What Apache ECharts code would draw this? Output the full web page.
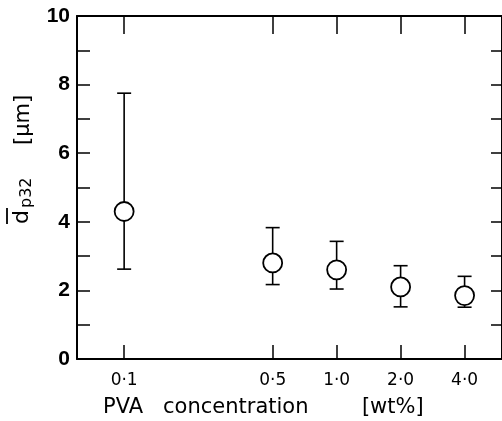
<!DOCTYPE html>
<html>
<head>
<meta charset="utf-8">
<script src="https://cdn.jsdelivr.net/npm/echarts@6/dist/echarts.min.js"></script>
<style>
html, body { margin: 0; padding: 0; background: #fff; }
#main { width: 502px; height: 421px; }
</style>
</head>
<body>
<div id="main"></div>
<script>
// PVA concentration [wt%] and mean diameter d_p32 [um] with error bars
const concentration = [0.1, 0.5, 1.0, 2.0, 4.0];
const dp32Mean = [4.3, 2.8, 2.6, 2.1, 1.85];
const dp32Low = [2.62, 2.17, 2.04, 1.52, 1.51];
const dp32High = [7.75, 3.83, 3.43, 2.72, 2.41];
const xTickLabels = ['0·1', '0·5', '1·0', '2·0', '4·0'];
const xRange = [0.06, 6];
const yRange = [0, 10];

// concentration is plotted on a log10 scale
const logX = concentration.map(v => Math.log10(v));

// label for a tick position on the log axis
function xLabel(v) {
    let best = 0;
    for (let i = 1; i < logX.length; i++) {
        if (Math.abs(logX[i] - v) < Math.abs(logX[best] - v)) best = i;
    }
    return xTickLabels[best];
}

let mychart = echarts.init(document.getElementById('main'));

const axisColor = '#000';

mychart.setOption({
    animation: false,
    backgroundColor: '#fff',
    grid: {
        left: 77,
        right: -2,
        top: 16,
        bottom: 62
    },
    xAxis: [
        {
            type: 'value',
            position: 'bottom',
            min: Math.log10(xRange[0]),
            max: Math.log10(xRange[1]),
            splitLine: { show: false },
            axisLine: { onZero: false, lineStyle: { color: axisColor, width: 2 } },
            axisTick: {
                inside: true,
                length: 14,
                customValues: logX,
                lineStyle: { color: axisColor, width: 1.5 }
            },
            axisLabel: {
                customValues: logX,
                margin: 13,
                fontFamily: 'DejaVu Sans',
                fontSize: 17,
                color: '#000',
                formatter: v => xLabel(v)
            }
        },
        {
            type: 'value',
            position: 'top',
            min: Math.log10(xRange[0]),
            max: Math.log10(xRange[1]),
            splitLine: { show: false },
            axisLine: { onZero: false, lineStyle: { color: axisColor, width: 2 } },
            axisTick: {
                inside: true,
                length: 18,
                customValues: logX,
                lineStyle: { color: axisColor, width: 1.5 }
            },
            axisLabel: { show: false }
        }
    ],
    yAxis: [
        {
            type: 'value',
            position: 'left',
            min: yRange[0],
            max: yRange[1],
            interval: 1,
            splitLine: { show: false },
            axisLine: { onZero: false, lineStyle: { color: axisColor, width: 2 } },
            axisTick: {
                inside: true,
                length: 13,
                lineStyle: { color: axisColor, width: 1.5 }
            },
            axisLabel: {
                margin: 7,
                fontFamily: 'Liberation Sans',
                fontWeight: 'bold',
                fontSize: 21,
                color: '#000',
                formatter: v => (v % 2 === 0 ? String(v) : '')
            }
        },
        {
            type: 'value',
            position: 'right',
            min: yRange[0],
            max: yRange[1],
            interval: 1,
            splitLine: { show: false },
            axisLine: { onZero: false, lineStyle: { color: axisColor, width: 2 } },
            axisTick: {
                inside: true,
                length: 11,
                lineStyle: { color: axisColor, width: 1.5 }
            },
            axisLabel: { show: false }
        }
    ],
    graphic: [
        {
            // y axis title, rotated to read bottom-to-top
            type: 'group',
            x: 27,
            y: 224,
            rotation: Math.PI / 2,
            children: [
                {
                    type: 'text',
                    x: 0,
                    y: 6,
                    style: {
                        text: 'd',
                        fontFamily: 'DejaVu Sans',
                        fontSize: 22,
                        fill: '#000',
                        verticalAlign: 'bottom'
                    }
                },
                {
                    type: 'line',
                    shape: { x1: 0, y1: -20, x2: 16, y2: -20 },
                    style: { stroke: '#000', lineWidth: 1.8 }
                },
                {
                    type: 'text',
                    x: 16,
                    y: 8,
                    style: {
                        text: 'p32',
                        fontFamily: 'DejaVu Sans',
                        fontSize: 16,
                        fill: '#000',
                        verticalAlign: 'bottom'
                    }
                },
                {
                    type: 'text',
                    x: 79,
                    y: 7,
                    style: {
                        text: '[μm]',
                        fontFamily: 'DejaVu Sans',
                        fontSize: 21,
                        fill: '#000',
                        verticalAlign: 'bottom'
                    }
                }
            ]
        },
        {
            type: 'text',
            x: 103,
            y: 408,
            style: {
                text: 'PVA   concentration        [wt%]',
                fontFamily: 'DejaVu Sans',
                fontSize: 21,
                fill: '#000',
                verticalAlign: 'middle'
            }
        }
    ],
    series: [
        {
            name: 'error',
            type: 'custom',
            z: 2,
            renderItem: function (params, api) {
                const lo = api.coord([api.value(0), api.value(1)]);
                const hi = api.coord([api.value(0), api.value(2)]);
                const w = 7;
                const st = { stroke: '#000', lineWidth: 1.6 };
                return {
                    type: 'group',
                    children: [
                        { type: 'line', shape: { x1: lo[0], y1: lo[1], x2: hi[0], y2: hi[1] }, style: st },
                        { type: 'line', shape: { x1: lo[0] - w, y1: lo[1], x2: lo[0] + w, y2: lo[1] }, style: st },
                        { type: 'line', shape: { x1: hi[0] - w, y1: hi[1], x2: hi[0] + w, y2: hi[1] }, style: st }
                    ]
                };
            },
            data: logX.map((x, i) => [x, dp32Low[i], dp32High[i]])
        },
        {
            name: 'dp32',
            type: 'scatter',
            z: 3,
            symbol: 'circle',
            symbolSize: 19,
            itemStyle: {
                color: '#fff',
                borderColor: '#000',
                borderWidth: 1.8,
                opacity: 1
            },
            data: logX.map((x, i) => [x, dp32Mean[i]])
        }
    ]
});
</script>
</body>
</html>
